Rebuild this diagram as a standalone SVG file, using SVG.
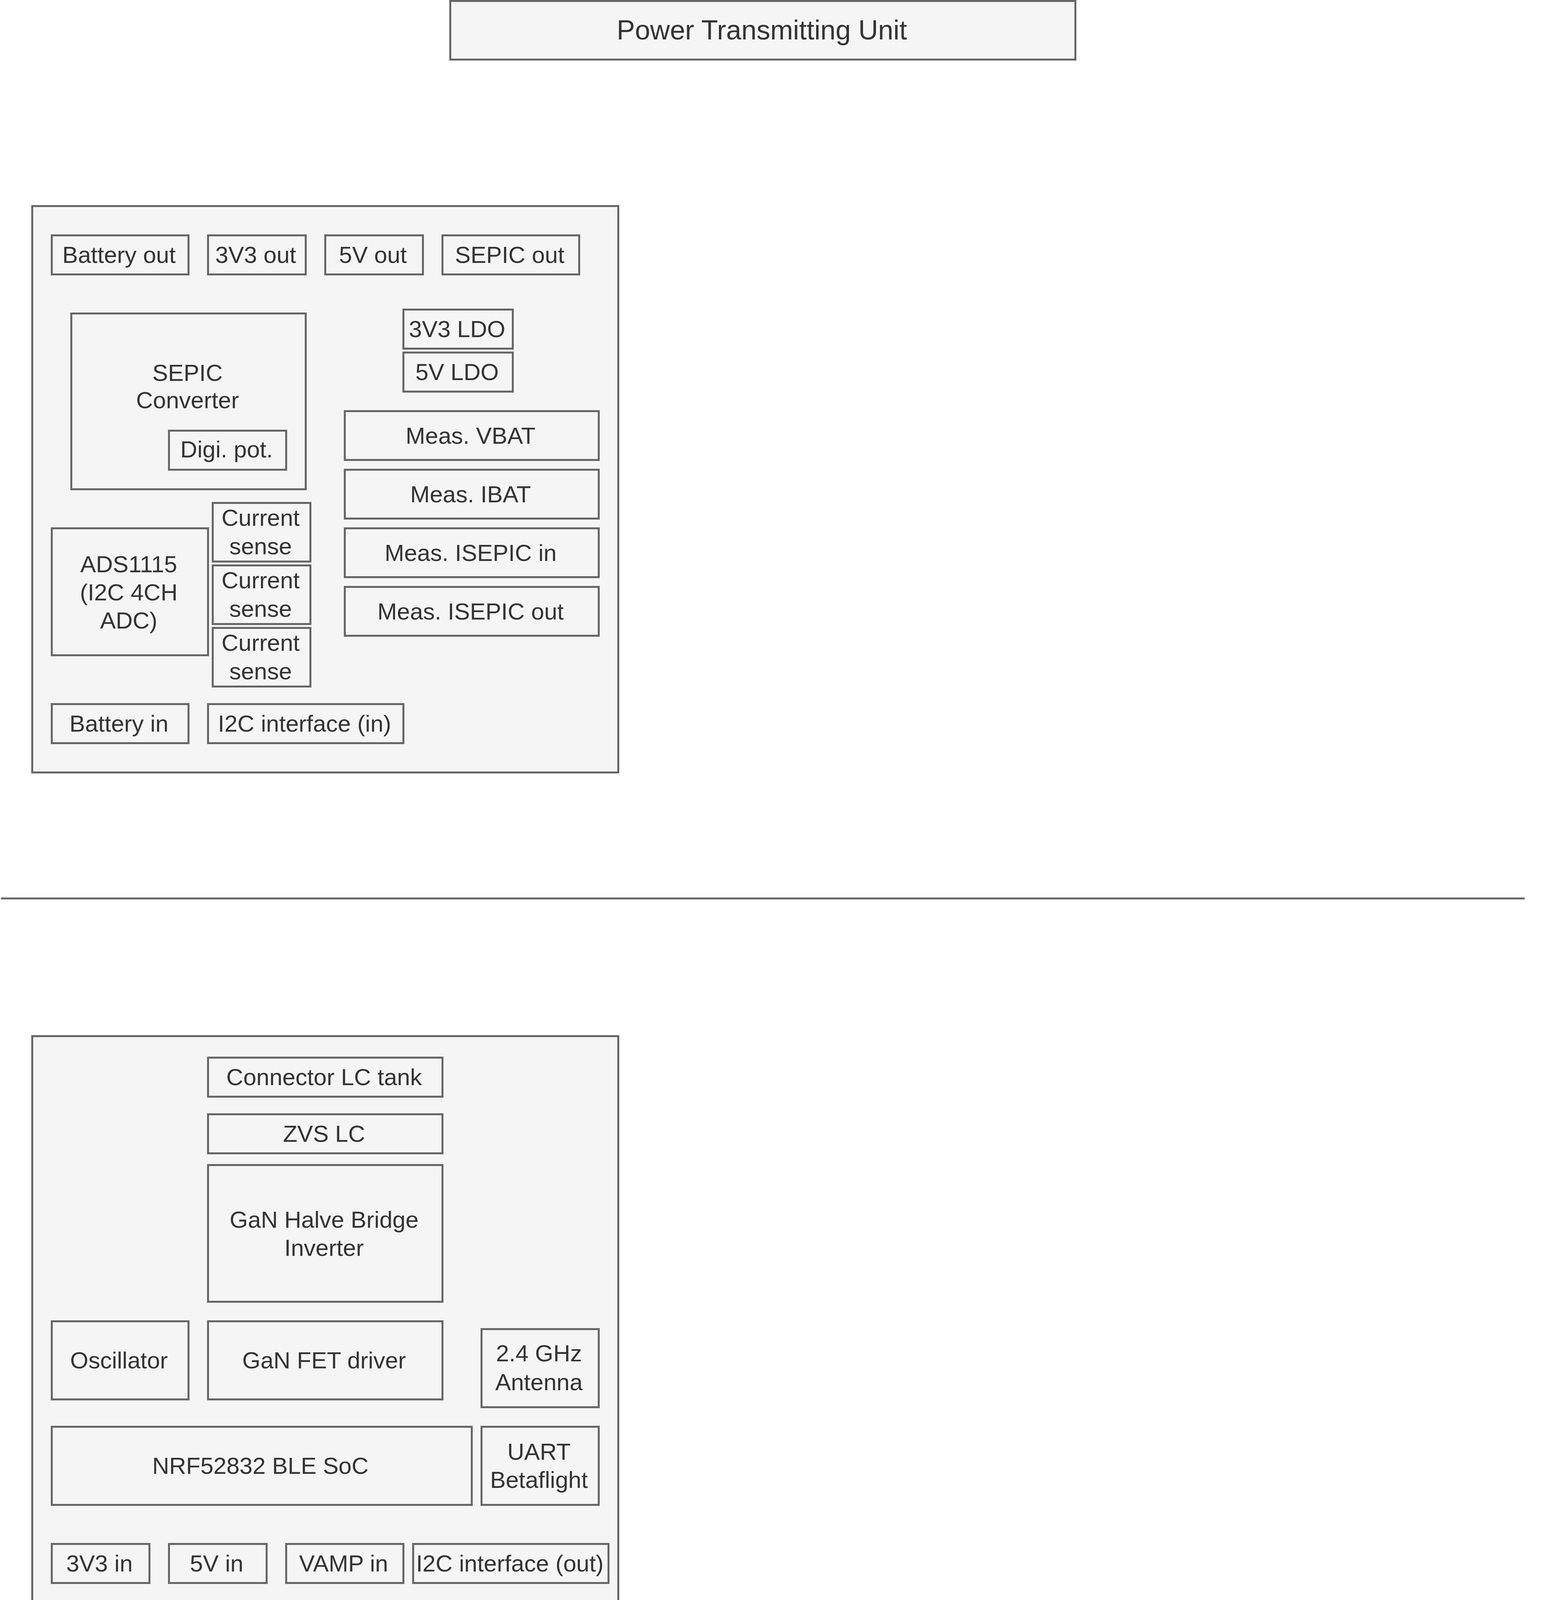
<svg xmlns="http://www.w3.org/2000/svg" width="3975" height="4315" viewBox="0 0 3975 4315">
<style>
  .box { fill: #f5f5f5; stroke: #666666; stroke-width: 5; }
  .sep { stroke: #666666; stroke-width: 5; fill: none; }
  text { font-family: "Liberation Sans", Arial, Helvetica, sans-serif; font-size: 60px; fill: #333333; text-anchor: middle; }
  .title { font-size: 70px; }
</style>
<rect width="3975" height="4315" fill="#ffffff"/>

<g id="title">
  <rect class="box" x="1152.5" y="2.5" width="1600" height="150"/>
  <text class="title" x="1950" y="101">Power Transmitting Unit</text>
</g>

<!-- Upper module -->
<g id="power-module">
  <rect class="box" x="82.5" y="527.5" width="1500" height="1450"/>
</g>
<g id="battery-out">
  <rect class="box" x="132.5" y="602.5" width="350" height="100"/>
  <text x="304.5" y="672.5">Battery out</text>
</g>
<g id="3v3-out">
  <rect class="box" x="532.5" y="602.5" width="250" height="100"/>
  <text x="654.5" y="672.5">3V3 out</text>
</g>
<g id="5v-out">
  <rect class="box" x="832.5" y="602.5" width="250" height="100"/>
  <text x="954.5" y="672.5">5V out</text>
</g>
<g id="sepic-out">
  <rect class="box" x="1132.5" y="602.5" width="350" height="100"/>
  <text x="1304.5" y="672.5">SEPIC out</text>
</g>
<g id="sepic-converter">
  <rect class="box" x="182.5" y="802.5" width="600" height="450"/>
  <text x="480" y="975">SEPIC</text>
  <text x="480" y="1045">Converter</text>
</g>
<g id="digi-pot">
  <rect class="box" x="432.5" y="1102.5" width="300" height="100"/>
  <text x="580" y="1170.5">Digi. pot.</text>
</g>
<g id="3v3-ldo">
  <rect class="box" x="1032.5" y="792.5" width="280" height="100"/>
  <text x="1170" y="863">3V3 LDO</text>
</g>
<g id="5v-ldo">
  <rect class="box" x="1032.5" y="902.5" width="280" height="100"/>
  <text x="1170" y="973">5V LDO</text>
</g>
<g id="meas-vbat">
  <rect class="box" x="882.5" y="1052.5" width="650" height="125"/>
  <text x="1204.5" y="1135.5">Meas. VBAT</text>
</g>
<g id="meas-ibat">
  <rect class="box" x="882.5" y="1202.5" width="650" height="125"/>
  <text x="1204.5" y="1285.5">Meas. IBAT</text>
</g>
<g id="meas-isepic-in">
  <rect class="box" x="882.5" y="1352.5" width="650" height="125"/>
  <text x="1204.5" y="1435.5">Meas. ISEPIC in</text>
</g>
<g id="meas-isepic-out">
  <rect class="box" x="882.5" y="1502.5" width="650" height="125"/>
  <text x="1204.5" y="1585.5">Meas. ISEPIC out</text>
</g>
<g id="ads1115">
  <rect class="box" x="132.5" y="1352.5" width="400" height="325"/>
  <text x="329.5" y="1465">ADS1115</text>
  <text x="329.5" y="1537">(I2C 4CH</text>
  <text x="329.5" y="1609">ADC)</text>
</g>
<g id="current-sense-1">
  <rect class="box" x="544.5" y="1287.5" width="250" height="150"/>
  <text x="667" y="1345.5">Current</text>
  <text x="667" y="1418.5">sense</text>
</g>
<g id="current-sense-2">
  <rect class="box" x="544.5" y="1447.5" width="250" height="150"/>
  <text x="667" y="1505.5">Current</text>
  <text x="667" y="1578.5">sense</text>
</g>
<g id="current-sense-3">
  <rect class="box" x="544.5" y="1607.5" width="250" height="150"/>
  <text x="667" y="1665.5">Current</text>
  <text x="667" y="1738.5">sense</text>
</g>
<g id="battery-in">
  <rect class="box" x="132.5" y="1802.5" width="350" height="100"/>
  <text x="304.5" y="1872.5">Battery in</text>
</g>
<g id="i2c-in">
  <rect class="box" x="532.5" y="1802.5" width="500" height="100"/>
  <text x="779.5" y="1872.5">I2C interface (in)</text>
</g>

<g id="connectors">
  <line class="sep" x1="2.5" y1="2300" x2="3902.5" y2="2300"/>
</g>

<!-- Lower module -->
<g id="transmitter-module">
  <rect class="box" x="82.5" y="2652.5" width="1500" height="1450"/>
</g>
<g id="connector-lc-tank">
  <rect class="box" x="532.5" y="2707.5" width="600" height="100"/>
  <text x="829.5" y="2777.5">Connector LC tank</text>
</g>
<g id="zvs-lc">
  <rect class="box" x="532.5" y="2852.5" width="600" height="100"/>
  <text x="829.5" y="2922.5">ZVS LC</text>
</g>
<g id="gan-half-bridge">
  <rect class="box" x="532.5" y="2982.5" width="600" height="350"/>
  <text x="829.5" y="3142.5">GaN Halve Bridge</text>
  <text x="829.5" y="3215">Inverter</text>
</g>
<g id="oscillator">
  <rect class="box" x="132.5" y="3382.5" width="350" height="200"/>
  <text x="304.5" y="3503">Oscillator</text>
</g>
<g id="gan-fet-driver">
  <rect class="box" x="532.5" y="3382.5" width="600" height="200"/>
  <text x="829.5" y="3503">GaN FET driver</text>
</g>
<g id="antenna">
  <rect class="box" x="1232.5" y="3402.5" width="300" height="200"/>
  <text x="1379.5" y="3485">2.4 GHz</text>
  <text x="1379.5" y="3559">Antenna</text>
</g>
<g id="nrf52832">
  <rect class="box" x="132.5" y="3652.5" width="1075" height="200"/>
  <text x="666.5" y="3773">NRF52832 BLE SoC</text>
</g>
<g id="uart-betaflight">
  <rect class="box" x="1232.5" y="3652.5" width="300" height="200"/>
  <text x="1379.5" y="3736.5">UART</text>
  <text x="1379.5" y="3809">Betaflight</text>
</g>
<g id="3v3-in">
  <rect class="box" x="132.5" y="3952.5" width="250" height="100"/>
  <text x="254.5" y="4023">3V3 in</text>
</g>
<g id="5v-in">
  <rect class="box" x="432.5" y="3952.5" width="250" height="100"/>
  <text x="554.5" y="4023">5V in</text>
</g>
<g id="vamp-in">
  <rect class="box" x="732.5" y="3952.5" width="300" height="100"/>
  <text x="879.5" y="4023">VAMP in</text>
</g>
<g id="i2c-out">
  <rect class="box" x="1057.5" y="3952.5" width="500" height="100"/>
  <text x="1305" y="4023">I2C interface (out)</text>
</g>
</svg>
